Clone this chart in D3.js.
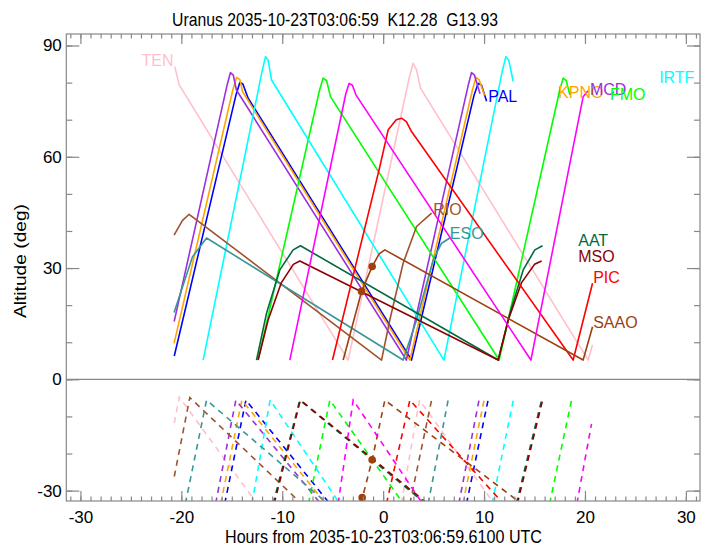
<!DOCTYPE html>
<html>
<head>
<meta charset="utf-8">
<script src="https://cdn.jsdelivr.net/npm/d3@7"></script>
<style>
  body { margin: 0; background: #fff; }
  text { font-family: "Liberation Sans", Arial, Helvetica, sans-serif; }
</style>
</head>
<body>
<script>
const width = 708;
const height = 546;

// hours from the reference time, altitude in degrees (above the 5 deg limit)
const tenAlt = [[-20.65, 84.3], [-20.21, 79.4], [-3.47, 5.2], [2.6, 81.5], [2.97, 85.2], [3.3, 83.5], [3.7, 78.5], [20.32, 5.2], [20.75, 9.3]];
const palAlt = [[-20.7, 6.3], [-14.6, 76.5], [-14.2, 80.0], [-13.9, 79.6], [-13.38, 75.8], [2.81, 5.2], [9.0, 76.5], [9.42, 79.8], [9.75, 79.3], [10.25, 75.0]];
const kpnoAlt = [[-20.72, 9.7], [-14.9, 78.0], [-14.53, 81.4], [-14.2, 80.8], [-13.94, 77.6], [2.65, 5.2], [8.85, 78.0], [9.19, 81.4], [9.5, 80.8], [10.05, 76.5]];
const mcdAlt = [[-20.71, 15.6], [-15.45, 79.5], [-15.13, 82.7], [-14.85, 82.0], [-14.54, 78.0], [2.3, 5.2], [8.45, 79.5], [8.76, 82.7], [9.05, 82.0], [9.6, 77.0]];
const fmoAlt = [[-12.39, 5.2], [-6.3, 78.0], [-5.95, 81.2], [-5.6, 80.5], [-5.22, 76.2], [11.5, 5.2], [17.5, 78.0], [17.84, 81.2], [18.15, 80.5], [18.5, 76.7]];
const irtfAlt = [[-17.84, 5.2], [-12.0, 83.0], [-11.66, 87.0], [-11.4, 86.0], [-11.06, 80.7], [6.02, 5.2], [11.8, 83.0], [12.16, 87.0], [12.45, 86.0], [12.89, 80.3]];
const rioAlt = [[-20.72, 38.9], [-19.9, 42.8], [-19.23, 44.5], [-0.16, 5.2], [0.66, 16.0], [1.98, 31.3], [3.31, 41.2], [4.8, 44.8]];
const esoAlt = [[-20.72, 18.0], [-18.9, 33.0], [-17.5, 38.1], [1.98, 5.2], [3.31, 16.0], [4.96, 32.2], [5.79, 36.7], [6.61, 38.1]];
const aatAlt = [[-12.55, 5.2], [-11.56, 17.8], [-10.24, 29.5], [-8.92, 34.9], [-8.19, 36.0], [11.4, 5.2], [12.56, 17.8], [13.88, 29.5], [15.03, 34.9], [15.8, 36.0]];
const msoAlt = [[-12.39, 5.2], [-11.4, 16.0], [-10.1, 26.0], [-8.9, 31.0], [-8.26, 31.9], [11.4, 5.2], [12.4, 16.0], [13.7, 26.0], [15.0, 31.0], [15.7, 31.9]];
const picAlt = [[-5.02, 5.2], [-0.33, 57.3], [0.5, 67.3], [1.3, 70.0], [1.82, 70.4], [2.3, 69.5], [2.81, 66.8], [18.83, 5.2], [20.75, 25.9]];
const saaoAlt = [[-3.96, 5.2], [-2.14, 23.7], [-1.09, 30.4], [-0.4, 33.8], [0.17, 34.9], [19.82, 5.2], [20.75, 14.2]];
const magAlt = [[-9.25, 5.2], [-3.7, 77.0], [-3.37, 79.8], [-3.05, 79.3], [-2.7, 76.7], [14.64, 5.2], [19.82, 76.2], [20.3, 77.8]];

// lower panel, dashed tracks (hours, deg)
const tenLow = [[[-20.7, -11.8], [-20.2, -4.8], [-12.5, -33.5]], [[1.8, -33.5], [3.6, -5.6], [11.0, -33.5]]];
const palLow = [[[-15.7, -33.5], [-13.6, -5.6], [-5.3, -33.5]], [[8.26, -33.5], [10.4, -5.6]]];
const kpnoLow = [[[-16.1, -33.5], [-14.0, -5.6], [-5.7, -33.5]], [[7.9, -33.5], [10.0, -5.6]]];
const mcdLow = [[[-16.6, -33.5], [-14.6, -5.6], [-6.2, -33.5]], [[7.5, -33.5], [9.5, -5.6]]];
const fmoLow = [[[-7.4, -33.5], [-5.28, -5.6], [2.0, -33.5]], [[16.5, -33.5], [18.67, -5.6]]];
const irtfLow = [[[-13.0, -33.5], [-11.2, -5.6], [-4.3, -33.5]], [[10.8, -33.5], [12.9, -5.6]]];
const rioLow = [[[-20.7, -26.2], [-19.16, -4.9], [-8.1, -33.5]], [[2.65, -33.5], [4.8, -5.6]]];
const esoLow = [[[-19.6, -33.5], [-17.5, -5.6], [-5.5, -33.5]], [[4.46, -33.5], [6.44, -5.6]]];
const aatLow = [[[-10.9, -33.5], [-8.26, -5.6], [4.2, -33.5]], [[13.2, -33.5], [15.7, -5.6]]];
const msoLow = [[[-10.8, -33.5], [-8.2, -5.6], [4.4, -33.5]], [[13.3, -33.5], [15.8, -5.6]]];
const picLow = [[[0.33, -33.5], [2.65, -5.6], [11.9, -33.5]]];
const saaoLow = [[[-2.2, -33.5], [-1.09, -21.7], [0.17, -5.6], [13.7, -33.5]]];
const magLow = [[[-4.46, -33.5], [-2.97, -5.6], [3.9, -33.5]], [[19.2, -33.5], [20.65, -12.0]]];

const siteNames = ['TEN', 'PAL', 'KPNO', 'MCD', 'FMO', 'IRTF', 'RIO', 'ESO', 'AAT', 'MSO', 'PIC', 'SAAO', ''];
const altCurves = [tenAlt, palAlt, kpnoAlt, mcdAlt, fmoAlt, irtfAlt, rioAlt, esoAlt, aatAlt, msoAlt, picAlt, saaoAlt, magAlt];
const lowCurves = [tenLow, palLow, kpnoLow, mcdLow, fmoLow, irtfLow, rioLow, esoLow, aatLow, msoLow, picLow, saaoLow, magLow];
// where each name is written (hours, deg)
const labelAt = [[-23.94, 84.4], [10.41, 74.9], [17.34, 75.8], [20.49, 76.7], [22.47, 75.4], [27.35, 80.0],
  [4.96, 44.3], [6.61, 37.8], [19.33, 36.0], [19.33, 31.7], [20.81, 25.9], [20.81, 13.9], null];

// moon marks on the SAAO track
const moonUp = [[-2.14, 23.7], [-1.09, 30.4]];
const moonLow = [[-2.08, -31.9], [-1.09, -21.7]];

const xMajor = [-30, -20, -10, 0, 10, 20, 30];
const yMajor = [-30, 0, 30, 60, 90];

const siteColor = d3.scaleOrdinal()
  .domain(d3.range(siteNames.length))
  .range(['#ffc0cb', '#0000ff', '#ffa500', '#9a30e0', '#00ff00', '#00ffff', '#a0522d', '#3a9696',
    '#006940', '#8b0000', '#ff0000', '#9c4010', '#ff00ff']);

const x0 = 66.3, x1 = 700, y0 = 34, y1 = 501;

const x = d3.scaleLinear().domain([-31.4, 31.4]).range([x0, x1]);
const y = d3.scaleLinear().domain([-32.8, 93.1]).range([y1, y0]);

const svg = d3.select('body')
  .append('svg')
  .attr('width', width)
  .attr('height', height);

svg.append('clipPath')
  .attr('id', 'plot')
  .append('rect')
  .attr('x', x0)
  .attr('y', y0)
  .attr('width', x1 - x0)
  .attr('height', y1 - y0);

const line = d3.line()
  .x(d => x(d[0]))
  .y(d => y(d[1]));

const marks = svg.append('g').attr('clip-path', 'url(#plot)');

// horizon line
marks.append('line')
  .attr('x1', x0)
  .attr('x2', x1)
  .attr('y1', y(0))
  .attr('y2', y(0))
  .attr('stroke', '#888')
  .attr('stroke-width', 1.2);

lowCurves.forEach((segs, i) => {
  marks.selectAll(null)
    .data(segs)
    .enter()
    .append('path')
    .attr('d', line)
    .attr('fill', 'none')
    .attr('stroke', siteColor(i))
    .attr('stroke-width', 1.6)
    .attr('stroke-dasharray', '6,5');
});

altCurves.forEach((pts, i) => {
  marks.append('path')
    .attr('d', line(pts))
    .attr('fill', 'none')
    .attr('stroke', siteColor(i))
    .attr('stroke-width', 1.6)
    .attr('stroke-linejoin', 'round');
});

marks.selectAll('circle.moon')
  .data(moonUp.concat(moonLow))
  .enter()
  .append('circle')
  .attr('class', 'moon')
  .attr('cx', d => x(d[0]))
  .attr('cy', d => y(d[1]))
  .attr('r', 3.8)
  .attr('fill', '#a0400a');

svg.selectAll('text.site')
  .data(siteNames.map((n, i) => ({ n, i, at: labelAt[i] })).filter(d => d.at))
  .enter()
  .append('text')
  .attr('class', 'site')
  .attr('x', d => x(d.at[0]))
  .attr('y', d => y(d.at[1]))
  .attr('font-size', 16)
  .attr('fill', d => siteColor(d.i))
  .text(d => d.n);

// axes, ticks pointing inward
function styleAxis(g) {
  g.select('.domain').remove();
  g.selectAll('line').attr('stroke', '#888').attr('stroke-width', 1.2);
  g.selectAll('text').attr('fill', '#000').attr('font-size', 17);
}

svg.append('g')
  .attr('transform', `translate(0,${y1})`)
  .call(d3.axisBottom(x).tickValues(d3.range(-31, 32)).tickSize(-4.5).tickFormat(''))
  .call(styleAxis);
svg.append('g')
  .attr('transform', `translate(0,${y1})`)
  .call(d3.axisBottom(x).tickValues(xMajor).tickSize(-10).tickPadding(10).tickFormat(d => String(d)))
  .call(styleAxis);
svg.append('g')
  .attr('transform', `translate(0,${y0})`)
  .call(d3.axisTop(x).tickValues(d3.range(-31, 32)).tickSize(-4.5).tickFormat(''))
  .call(styleAxis);
svg.append('g')
  .attr('transform', `translate(0,${y0})`)
  .call(d3.axisTop(x).tickValues(xMajor).tickSize(-10).tickFormat(''))
  .call(styleAxis);

svg.append('g')
  .attr('transform', `translate(${x0},0)`)
  .call(d3.axisLeft(y).tickValues(d3.range(-30, 91, 10)).tickSize(-6).tickFormat(''))
  .call(styleAxis);
svg.append('g')
  .attr('transform', `translate(${x0},0)`)
  .call(d3.axisLeft(y).tickValues(yMajor).tickSize(-13).tickPadding(4.5).tickFormat(d => String(d)))
  .call(styleAxis);
svg.append('g')
  .attr('transform', `translate(${x1},0)`)
  .call(d3.axisRight(y).tickValues(d3.range(-30, 91, 10)).tickSize(-6).tickFormat(''))
  .call(styleAxis);
svg.append('g')
  .attr('transform', `translate(${x1},0)`)
  .call(d3.axisRight(y).tickValues(yMajor).tickSize(-13).tickFormat(''))
  .call(styleAxis);

svg.append('rect')
  .attr('x', x0)
  .attr('y', y0)
  .attr('width', x1 - x0)
  .attr('height', y1 - y0)
  .attr('fill', 'none')
  .attr('stroke', '#888')
  .attr('stroke-width', 1.2);

svg.append('text')
  .attr('x', 172)
  .attr('y', 26)
  .attr('font-size', 19)
  .attr('textLength', 326)
  .attr('lengthAdjust', 'spacingAndGlyphs')
  .style('white-space', 'pre')
  .text('Uranus 2035-10-23T03:06:59  K12.28  G13.93');

svg.append('text')
  .attr('x', 225)
  .attr('y', 543)
  .attr('font-size', 18)
  .attr('textLength', 317)
  .attr('lengthAdjust', 'spacingAndGlyphs')
  .text('Hours from 2035-10-23T03:06:59.6100 UTC');

svg.append('text')
  .attr('transform', 'translate(26,318) rotate(-90)')
  .attr('font-size', 17)
  .attr('textLength', 114)
  .attr('lengthAdjust', 'spacingAndGlyphs')
  .text('Altitude (deg)');
</script>
</body>
</html>
